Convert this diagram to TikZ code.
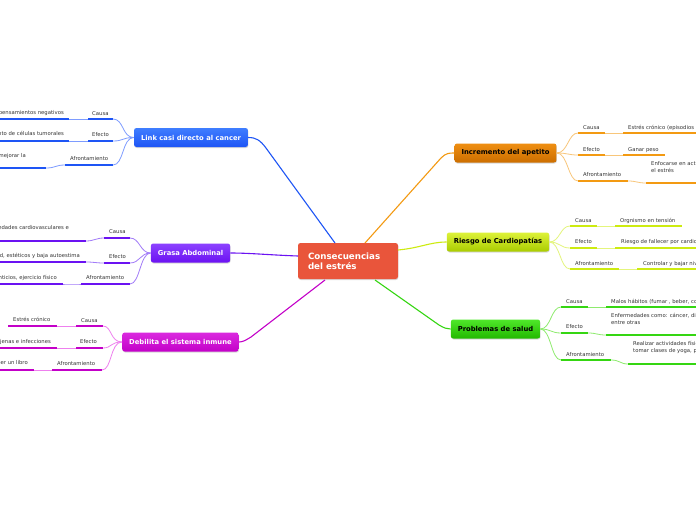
\documentclass[tikz,border=0pt]{standalone}
\usepackage{fontspec}
\setmainfont{DejaVu Sans}
\usetikzlibrary{shadows}
\definecolor{txt}{HTML}{333333}
\definecolor{cblue}{HTML}{1E55F5}
\definecolor{cbluet}{HTML}{3F7DFF}
\definecolor{cbluel}{HTML}{7E9CFF}
\definecolor{cpur}{HTML}{6B12F2}
\definecolor{cpurt}{HTML}{8C42FF}
\definecolor{cpurl}{HTML}{A27CF8}
\definecolor{cmag}{HTML}{C300C8}
\definecolor{cmagt}{HTML}{DA2ADF}
\definecolor{cmagl}{HTML}{EE80EE}
\definecolor{cora}{HTML}{F39A12}
\definecolor{corat}{HTML}{EF8F12}
\definecolor{corab}{HTML}{CC6E00}
\definecolor{coral}{HTML}{F8C67A}
\definecolor{cyel}{HTML}{CDEB10}
\definecolor{cyelt}{HTML}{DDF23A}
\definecolor{cyelb}{HTML}{AACC00}
\definecolor{cyell}{HTML}{E4F57C}
\definecolor{cgre}{HTML}{35D612}
\definecolor{cgret}{HTML}{4FE82A}
\definecolor{cgreb}{HTML}{22B800}
\definecolor{cgrel}{HTML}{8EEB6E}
\definecolor{ccen}{HTML}{E9553B}
\tikzset{
  lbl/.style={font=\fontsize{5.3}{6.6}\selectfont, text=txt, inner sep=0pt, anchor=base west, align=left},
  lblr/.style={lbl, anchor=base east},
  mainbox/.style={rounded corners=2.5pt, minimum height=19pt, inner xsep=7pt, inner ysep=0pt,
     font=\fontsize{6.8}{8}\selectfont\bfseries,
     drop shadow={shadow xshift=0.4pt,shadow yshift=-1pt,opacity=0.3}},
  ulw/.style={line width=2.4pt},
  conn/.style={line width=0.8pt},
  trunk/.style={line width=1.1pt},
}
\newcommand\ulin[5]{\coordinate (#1-w) at (#3,#5); \coordinate (#1-e) at (#4,#5); \draw[ulw,#2] (#1-w) -- (#1-e);}
\begin{document}
\begin{tikzpicture}[x=1pt,y=-1pt]
\useasboundingbox (0,0) rectangle (696,520);
\clip (0,0) rectangle (696,520);
\fill[white] (0,0) rectangle (696,520);

% ---------- center ----------
\node[rounded corners=2.5pt, fill=ccen, minimum width=100pt, minimum height=36pt, inner xsep=10pt, text width=80pt, align=left,
  font=\fontsize{8.7}{10.4}\selectfont\bfseries, text=white,
  drop shadow={shadow xshift=0.4pt,shadow yshift=-1pt,opacity=0.3}] (cen) at (348,261) {Consecuencias\\del estrés};

% ---------- main nodes ----------
\node[mainbox, top color=cbluet, bottom color=cblue, text=white] (link) at (191,137.5) {Link casi directo al cancer};
\node[mainbox, top color=cpurt, bottom color=cpur, text=white] (grasa) at (190.5,253) {Grasa Abdominal};
\node[mainbox, top color=cmagt, bottom color=cmag, text=white] (debil) at (180.5,342) {Debilita el sistema inmune};
\node[mainbox, top color=corat, bottom color=corab, text=black] (apet) at (505.5,153) {Incremento del apetito};
\node[mainbox, top color=cyelt, bottom color=cyelb, text=black] (cardio) at (498,242) {Riesgo de Cardiopatías};
\node[mainbox, top color=cgret, bottom color=cgreb, text=black] (salud) at (495.5,329) {Problemas de salud};

% ---------- trunks ----------
\coordinate (t1) at (335,243);
\coordinate (t2) at (365,243);
\coordinate (t3) at (398,250);
\coordinate (t4) at (375,280);
\coordinate (t5) at (325,280);
\coordinate (t6) at (298,256);
\draw[trunk,cblue] (t1) -- (266,148) .. controls (260,140) and (256,137.5) .. (link.east);
\draw[trunk,cora] (t2) -- (441,158) .. controls (446,153) and (449,153) .. (apet.west);
\draw[trunk,cyel] (t3) .. controls (420,248) and (430,242) .. (cardio.west);
\draw[trunk,cgre] (t4) -- (439,325) .. controls (444,328) and (447,329) .. (salud.west);
\draw[trunk,cmag] (t5) -- (251,337) .. controls (246,340) and (243,342) .. (debil.east);
\draw[trunk,cpur] (t6) .. controls (270,255) and (250,253) .. (grasa.east);

% ---------- Link casi directo al cancer ----------
\ulin{l1}{cblue}{88}{113}{119}
\ulin{l2}{cblue}{88}{113}{141}
\ulin{l3}{cblue}{65}{113}{165}
\node[lbl] (l1t) at (92,115) {Causa};
\node[lbl] (l2t) at (92,136) {Efecto};
\node[lbl] (l3t) at (70,160) {Afrontamiento};
\draw[conn,cbluel] (link.west) .. controls (122,137.5) and (124,119) .. (l1-e);
\draw[conn,cbluel] (link.west) .. controls (122,137.5) and (124,141) .. (l2-e);
\draw[conn,cbluel] (link.west) .. controls (122,137.5) and (124,165) .. (l3-e);
\ulin{l1b}{cblue}{0}{69}{119}
\ulin{l2b}{cblue}{0}{69}{141}
\ulin{l3b}{cblue}{0}{46}{168}
\node[lblr] (l1bt) at (64,114.5) {Tener pensamientos negativos};
\node[lblr] (l2bt) at (64,135) {Crecimiento de células tumorales};
\node[lblr] (l3bt) at (26,157.5) {Hacer ejercicio para mejorar la};
\draw[conn,cbluel] (l1-w) -- (l1b-e);
\draw[conn,cbluel] (l2-w) -- (l2b-e);
\draw[conn,cbluel] (l3-w) .. controls (55,165) and (56,168) .. (l3b-e);

% ---------- Grasa Abdominal ----------
\ulin{g1}{cpur}{104}{130}{238}
\ulin{g2}{cpur}{104}{130}{263}
\ulin{g3}{cpur}{81}{130}{284}
\node[lbl] (g1t) at (109,233.5) {Causa};
\node[lbl] (g2t) at (109,258) {Efecto};
\node[lbl] (g3t) at (86,279) {Afrontamiento};
\draw[conn,cpurl] (grasa.west) .. controls (140,253) and (140,238) .. (g1-e);
\draw[conn,cpurl] (grasa.west) .. controls (140,253) and (140,263) .. (g2-e);
\draw[conn,cpurl] (grasa.west) .. controls (140,253) and (140,284) .. (g3-e);
\ulin{g1b}{cpur}{0}{86}{241}
\ulin{g2b}{cpur}{0}{86}{262}
\ulin{g3b}{cpur}{0}{63}{284}
\node[lblr] (g1bt) at (69,229.5) {Enfermedades cardiovasculares e};
\node[lblr] (g2bt) at (80,257.5) {Problemas de salud, estéticos y baja autoestima};
\node[lblr] (g3bt) at (57,279) {Hábitos alimenticios, ejercicio físico};
\draw[conn,cpurl] (g1-w) .. controls (96,238) and (94,241) .. (g1b-e);
\draw[conn,cpurl] (g2-w) .. controls (96,263) and (94,262) .. (g2b-e);
\draw[conn,cpurl] (g3-w) .. controls (73,284) and (71,284) .. (g3b-e);

% ---------- Debilita el sistema inmune ----------
\ulin{d1}{cmag}{76}{103}{326}
\ulin{d2}{cmag}{76}{103}{348}
\ulin{d3}{cmag}{52}{102}{370}
\node[lbl] (d1t) at (81,322) {Causa};
\node[lbl] (d2t) at (80,343.5) {Efecto};
\node[lbl] (d3t) at (57,365) {Afrontamiento};
\draw[conn,cmagl] (debil.west) .. controls (110,342) and (112,326) .. (d1-e);
\draw[conn,cmagl] (debil.west) .. controls (110,342) and (112,348) .. (d2-e);
\draw[conn,cmagl] (debil.west) .. controls (110,342) and (112,370) .. (d3-e);
\ulin{d1b}{cmag}{8}{57}{326}
\ulin{d2b}{cmag}{0}{57}{348}
\ulin{d3b}{cmag}{0}{34}{370}
\node[lbl] (d1bt) at (13,321) {Estrés crónico};
\node[lblr] (d2bt) at (51,343) {Enfermedades ajenas e infecciones};
\node[lblr] (d3bt) at (28,364.5) {Meditar o leer un libro};
\draw[conn,cmagl] (d1-w) -- (d1b-e);
\draw[conn,cmagl] (d2-w) -- (d2b-e);
\draw[conn,cmagl] (d3-w) -- (d3b-e);

% ---------- Incremento del apetito ----------
\ulin{a1}{cora}{578}{605}{133}
\ulin{a2}{cora}{578}{605}{155}
\ulin{a3}{cora}{578}{628}{181}
\node[lbl] (a1t) at (583,129) {Causa};
\node[lbl] (a2t) at (583,151) {Efecto};
\node[lbl] (a3t) at (583,176) {Afrontamiento};
\draw[conn,coral] (apet.east) .. controls (568,153) and (568,133) .. (a1-w);
\draw[conn,coral] (apet.east) .. controls (568,153) and (568,155) .. (a2-w);
\draw[conn,coral] (apet.east) .. controls (568,153) and (568,181) .. (a3-w);
\ulin{a1b}{cora}{623}{700}{133}
\ulin{a2b}{cora}{623}{665}{155}
\ulin{a3b}{cora}{646}{700}{183}
\node[lbl] (a1bt) at (628,129) {Estrés crónico (episodios de ansiedad)};
\node[lbl] (a2bt) at (628,151) {Ganar peso};
\node[lbl] (a3bt) at (651,172.5) {Enfocarse en actividades que reduzcan\\el estrés};
\draw[conn,coral] (a1-e) -- (a1b-w);
\draw[conn,coral] (a2-e) -- (a2b-w);
\draw[conn,coral] (a3-e) .. controls (637,181) and (637,183) .. (a3b-w);

% ---------- Riesgo de Cardiopatias ----------
\ulin{c1}{cyel}{570}{597}{226}
\ulin{c2}{cyel}{570}{597}{248}
\ulin{c3}{cyel}{570}{619}{269}
\node[lbl] (c1t) at (575,222) {Causa};
\node[lbl] (c2t) at (575,243.5) {Efecto};
\node[lbl] (c3t) at (575,265) {Afrontamiento};
\draw[conn,cyell] (cardio.east) .. controls (560,242) and (560,226) .. (c1-w);
\draw[conn,cyell] (cardio.east) .. controls (560,242) and (560,248) .. (c2-w);
\draw[conn,cyell] (cardio.east) .. controls (560,242) and (560,269) .. (c3-w);
\ulin{c1b}{cyel}{615}{682}{226}
\ulin{c2b}{cyel}{615}{700}{248}
\ulin{c3b}{cyel}{637}{700}{269}
\node[lbl] (c1bt) at (620,222) {Orgnismo en tensión};
\node[lbl] (c2bt) at (621,243.5) {Riesgo de fallecer por cardiopatías};
\node[lbl] (c3bt) at (643,265) {Controlar y bajar niveles de estrés};
\draw[conn,cyell] (c1-e) -- (c1b-w);
\draw[conn,cyell] (c2-e) -- (c2b-w);
\draw[conn,cyell] (c3-e) -- (c3b-w);

% ---------- Problemas de salud ----------
\ulin{s1}{cgre}{561}{588}{307}
\ulin{s2}{cgre}{561}{588}{333}
\ulin{s3}{cgre}{561}{611}{360}
\node[lbl] (s1t) at (566,303) {Causa};
\node[lbl] (s2t) at (566,328.5) {Efecto};
\node[lbl] (s3t) at (566,356) {Afrontamiento};
\draw[conn,cgrel] (salud.east) .. controls (551,329) and (551,307) .. (s1-w);
\draw[conn,cgrel] (salud.east) .. controls (551,329) and (551,333) .. (s2-w);
\draw[conn,cgrel] (salud.east) .. controls (551,329) and (551,360) .. (s3-w);
\ulin{s1b}{cgre}{606}{700}{307}
\ulin{s2b}{cgre}{606}{700}{335}
\ulin{s3b}{cgre}{628}{700}{364}
\node[lbl] (s1bt) at (611,303) {Malos hábitos (fumar , beber, comer en exceso)};
\node[lbl] (s2bt) at (611,324.5) {Enfermedades como: cáncer, diabetes,\\entre otras};
\node[lbl] (s3bt) at (633,352.5) {Realizar actividades físicas como\\tomar clases de yoga, pilates};
\draw[conn,cgrel] (s1-e) -- (s1b-w);
\draw[conn,cgrel] (s2-e) .. controls (597,333) and (597,335) .. (s2b-w);
\draw[conn,cgrel] (s3-e) .. controls (620,360) and (620,364) .. (s3b-w);
\end{tikzpicture}
\end{document}
